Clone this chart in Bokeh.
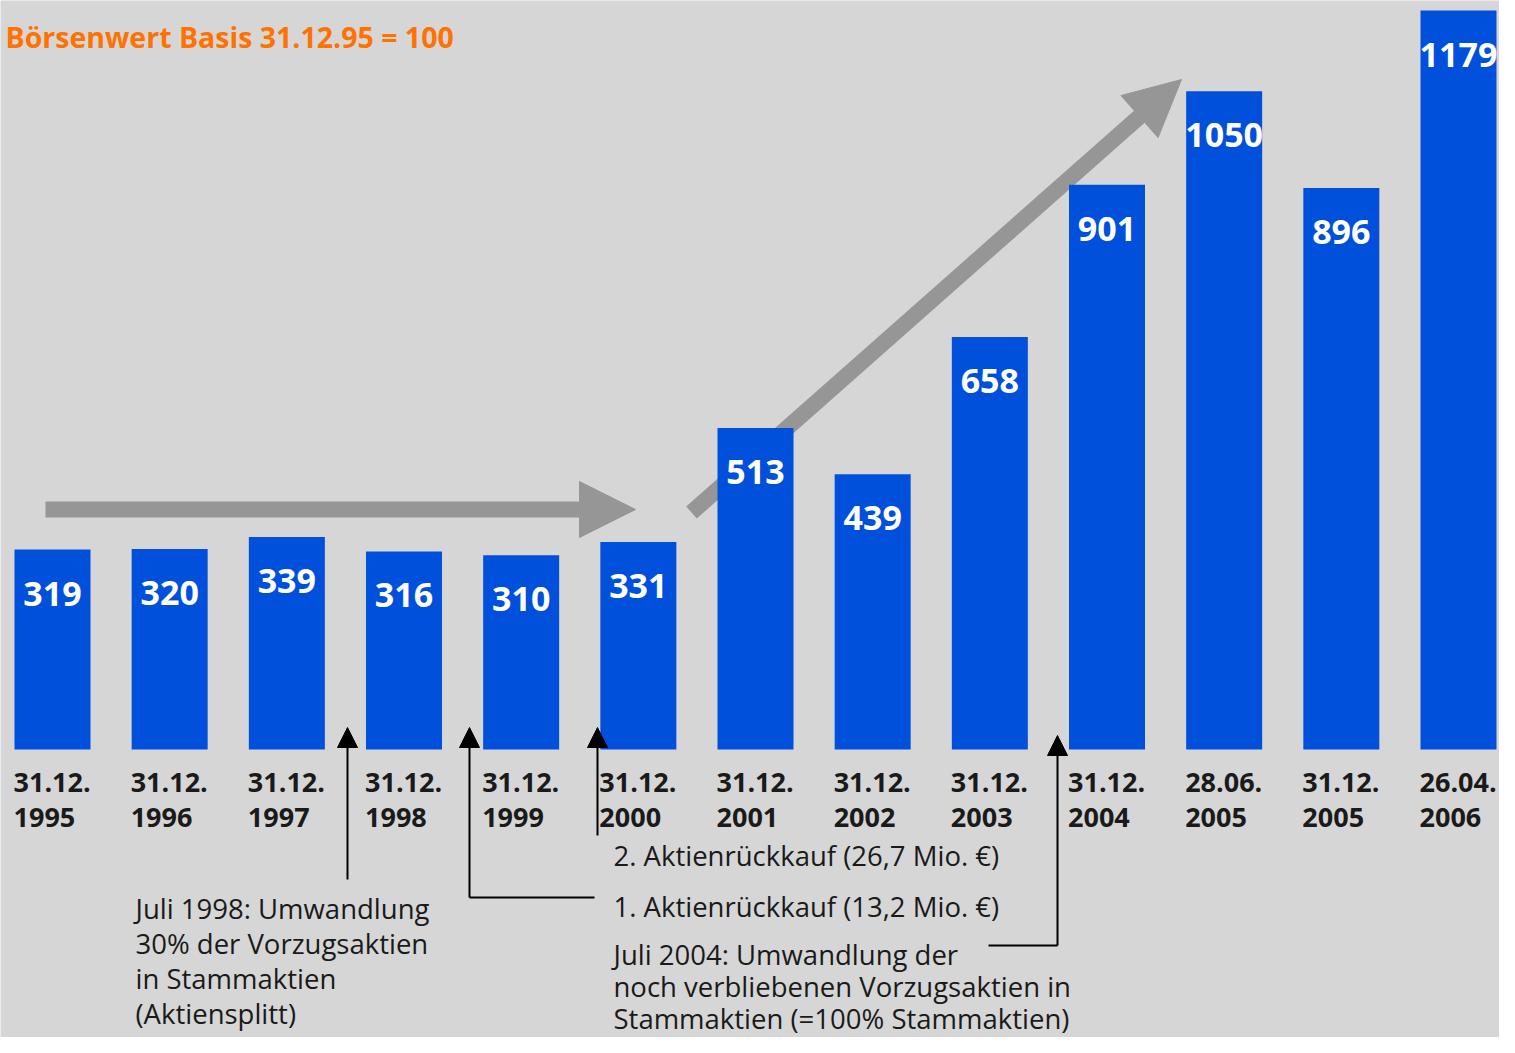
from bokeh.plotting import figure
from bokeh.models import Range1d, Arrow, NormalHead, ColumnDataSource
from bokeh.core.properties import value
from bokeh.embed import file_html
from bokeh.resources import INLINE

# ---- data ----
date_day = ["31.12.", "31.12.", "31.12.", "31.12.", "31.12.", "31.12.", "31.12.",
            "31.12.", "31.12.", "31.12.", "28.06.", "31.12.", "26.04."]
date_year = ["1995", "1996", "1997", "1998", "1999", "2000", "2001",
             "2002", "2003", "2004", "2005", "2005", "2006"]
index_values = [319, 320, 339, 316, 310, 331, 513, 439, 658, 901, 1050, 896, 1179]
title_text = "Börsenwert Basis 31.12.95 = 100"
note_1998 = ["Juli 1998: Umwandlung", "30% der Vorzugsaktien", "in Stammaktien", "(Aktiensplitt)"]
note_buyback1 = "1. Aktienrückkauf (13,2 Mio. €)"
note_buyback2 = "2. Aktienrückkauf (26,7 Mio. €)"
note_2004 = ["Juli 2004: Umwandlung der", "noch verbliebenen Vorzugsaktien in",
             "Stammaktien (=100% Stammaktien)"]

# ---- style ----
BG = "#d6d6d6"
BLUE = "#0050dc"
GRAY = "#969696"
INK = "#1a1a1a"
ORANGE = "#ff7200"
FONT = value("Open Sans")

W, H = 1499, 1037
first_c, last_c = 52.0, 1458.0
n = len(index_values)
step = (last_c - first_c) / (n - 1)
centers = [first_c + i * step for i in range(n)]
bar_w = 76

# value scale: 0 at canvas y 749, 1179 at canvas y 10
k = (749 - 10) / 1179.0
y_top = 749 / k
y_bot = -(H - 749) / k

p = figure(width=W, height=H, x_range=Range1d(0, W), y_range=Range1d(y_bot, y_top),
           x_axis_type=None, y_axis_type=None, toolbar_location=None,
           output_backend="svg", min_border=0, background_fill_color=BG,
           border_fill_color=BG, outline_line_color=None)
p.extra_y_ranges = {"px": Range1d(H, 0)}
for g in p.grid:
    g.visible = False

# gray trend arrows (behind bars)
for xs, ys, xe, ye in [(45, 509, 635, 509), (691, 512, 1181, 79)]:
    a = Arrow(end=NormalHead(size=56, fill_color=GRAY, line_color=GRAY, line_width=1),
              x_start=xs, y_start=ys, x_end=xe, y_end=ye, line_color=GRAY,
              line_width=16, y_range_name="px", level="underlay")
    p.add_layout(a)

src = ColumnDataSource(dict(x=centers, top=index_values,
                            lbl=[str(v) for v in index_values],
                            left=[c - bar_w / 2 - 1 for c in centers],
                            day=date_day, year=date_year))

p.vbar(x="x", top="top", bottom=0, width=bar_w, source=src, fill_color=BLUE, line_color=None)

p.text(x="x", y="top", text="lbl", source=src, text_color="white", text_font=FONT,
       text_font_size="34px", text_font_style="bold", text_align="center",
       text_baseline="alphabetic", y_offset=44)

# date labels
p.text(x="left", y=782, text="day", source=src, text_color=INK, text_font=FONT,
       text_font_size="27px", text_font_style="bold", text_align="left",
       text_baseline="alphabetic", y_range_name="px")
p.text(x="left", y=817, text="year", source=src, text_color=INK, text_font=FONT,
       text_font_size="27px", text_font_style="bold", text_align="left",
       text_baseline="alphabetic", y_range_name="px")

# title
p.text(x=[5], y=[36], text=[title_text], text_color=ORANGE, text_font=FONT,
       text_font_size="28.5px", text_font_style="bold", text_align="left",
       text_baseline="alphabetic", y_range_name="px")

# black annotation arrows
b_bb2, b_bb1, b2004 = 855, 906, 954
for xa, y0, y1 in [(347, 879, 727), (469, b_bb1 - 9, 727), (597, 835, 727),
                   (1057, b2004 - 9, 735)]:
    p.add_layout(Arrow(end=NormalHead(size=20, fill_color="black", line_color="black", line_width=1),
                       x_start=xa, y_start=y0, x_end=xa, y_end=y1, line_color="black",
                       line_width=2, y_range_name="px"))
p.segment(x0=[469, 988], y0=[b_bb1 - 9, b2004 - 9], x1=[594, 1057], y1=[b_bb1 - 9, b2004 - 9],
          line_color="black", line_width=2, y_range_name="px")

# annotation texts
ax, ay, at = [], [], []
for i, t in enumerate(note_1998):
    ax.append(135); ay.append(908 + 35 * i); at.append(t)
ax.append(613); ay.append(b_bb2); at.append(note_buyback2)
ax.append(613); ay.append(b_bb1); at.append(note_buyback1)
for i, t in enumerate(note_2004):
    ax.append(613); ay.append(b2004 + 32 * i); at.append(t)
p.text(x=ax, y=ay, text=at, text_color=INK, text_font=FONT, text_font_size="27.5px",
       text_align="left", text_baseline="alphabetic", y_range_name="px")

open("out.html", "w").write(file_html(p, INLINE))
